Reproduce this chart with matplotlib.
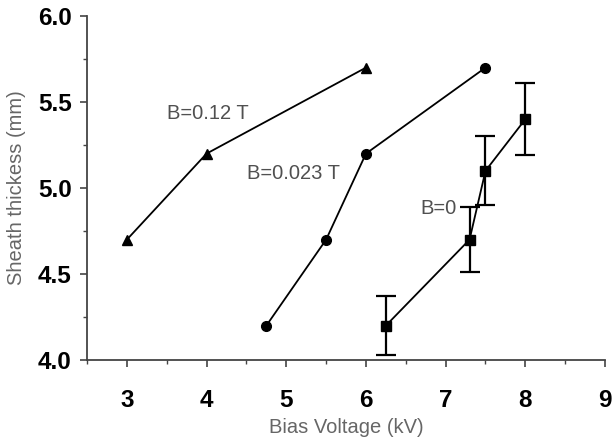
import numpy as np
import matplotlib
matplotlib.use("Agg")
import matplotlib.pyplot as plt
from matplotlib.ticker import MultipleLocator

plt.rcParams['font.family'] = ['Liberation Sans', 'DejaVu Sans']

# B = 0.12 T
x_012 = [3, 4, 6]
y_012 = [4.7, 5.2, 5.7]
# B = 0.023 T
x_0023 = [4.75, 5.5, 6, 7.5]
y_0023 = [4.2, 4.7, 5.2, 5.7]
# B = 0 (with error bars)
x_0 = [6.25, 7.3, 7.5, 8]
y_0 = [4.2, 4.7, 5.1, 5.4]
err_0 = [0.17, 0.19, 0.2, 0.21]

fig = plt.figure(figsize=(6.13, 4.45), dpi=100)
ax = fig.add_axes([0.1420, 0.191, 0.845, 0.773])

ax.plot(x_012, y_012, '-^', color='black', lw=1.3, ms=7)
ax.plot(x_0023, y_0023, '-o', color='black', lw=1.3, ms=7)
ax.errorbar(x_0, y_0, yerr=err_0, fmt='-s', color='black', lw=1.3, ms=7,
            capsize=7, elinewidth=1.6, capthick=1.6)

txt = '#505050'
ax.text(3.5, 5.436, 'B=0.12 T', fontsize=14.5, color=txt, va='center')
ax.text(4.51, 5.087, 'B=0.023 T', fontsize=14.5, color=txt, va='center')
ax.text(6.68, 4.88, 'B=0', fontsize=14.5, color=txt, va='center')

ax.set_xlim(2.5, 9)
ax.set_ylim(4.0, 6.0)
ax.xaxis.set_major_locator(MultipleLocator(1))
ax.xaxis.set_minor_locator(MultipleLocator(0.5))
ax.yaxis.set_major_locator(MultipleLocator(0.5))
ax.yaxis.set_minor_locator(MultipleLocator(0.25))
ax.set_yticks([4.0, 4.5, 5.0, 5.5, 6.0])
ax.set_yticklabels(['4.0', '4.5', '5.0', '5.5', '6.0'])

for s in ['top', 'right']:
    ax.spines[s].set_visible(False)
for s in ['left', 'bottom']:
    ax.spines[s].set_color('#444444')
    ax.spines[s].set_linewidth(1.3)

ax.tick_params(which='major', direction='out', length=5, width=1.2, color='#444444',
               labelsize=17.5)
ax.tick_params(axis='x', which='major', pad=16)
ax.tick_params(axis='y', which='major', pad=6)
ax.tick_params(which='minor', direction='out', length=3, width=1.0, color='#444444')
for lab in ax.get_xticklabels() + ax.get_yticklabels():
    lab.set_fontweight('bold')

ax.set_xlabel('Bias Voltage (kV)', fontsize=14.5, color='#666666', labelpad=4)
ax.set_ylabel('Sheath thickess (mm)', fontsize=14.5, color='#666666', labelpad=9)

fig.savefig('out.png', dpi=100)
